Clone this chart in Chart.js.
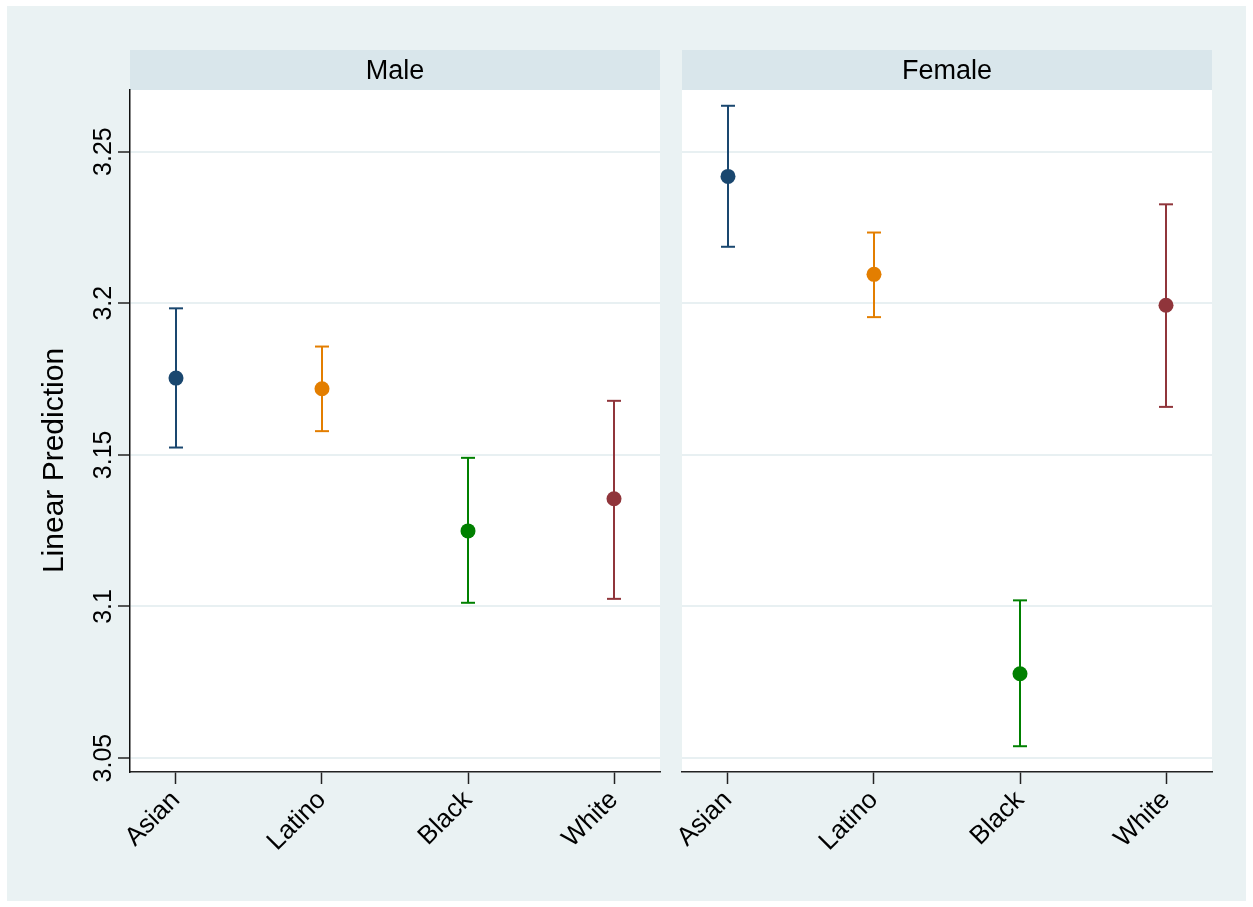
<!DOCTYPE html>
<html>
<head>
<meta charset="utf-8">
<script src="https://cdn.jsdelivr.net/npm/chart.js@4.4.0/dist/chart.umd.min.js"></script>
<style>
  html, body { margin: 0; padding: 0; background: #ffffff; }
  #wrap { position: relative; width: 1253px; height: 907px; overflow: hidden; }
  #bg { position: absolute; left: 7px; top: 6px; width: 1239px; height: 895px; background: #EAF2F3; }
  canvas { position: absolute; left: 0; top: 0; }
</style>
</head>
<body>
<div id="wrap">
  <div id="bg"></div>
  <canvas id="cMale" width="1253" height="907"></canvas>
  <canvas id="cFemale" width="1253" height="907"></canvas>
</div>
<script>
// ---------- data ----------
const categories = ['Asian', 'Latino', 'Black', 'White'];
const panelTitles = ['Male', 'Female'];
const yAxisTitle = 'Linear Prediction';

const maleEst   = [3.1753, 3.1718, 3.1249, 3.1355];
const maleLow   = [3.1524, 3.1578, 3.1012, 3.1025];
const maleHigh  = [3.1983, 3.1857, 3.1490, 3.1678];

const femaleEst  = [3.2418, 3.2095, 3.0778, 3.1993];
const femaleLow  = [3.2186, 3.1954, 3.0539, 3.1658];
const femaleHigh = [3.2651, 3.2233, 3.1020, 3.2326];

const yTickValues = [3.05, 3.1, 3.15, 3.2, 3.25];
const yTickLabels = ['3.05', '3.1', '3.15', '3.2', '3.25'];
const yMin = 3.0454, yMax = 3.2703;
const xMin = 0.685, xMax = 4.315;

// ---------- styles ----------
const seriesColors = ['#1A476F', '#E37E00', '#008000', '#90353B'];
const FONT = "'Liberation Sans', Arial, Helvetica, sans-serif";
const AXIS_DARK = '#222222';
const GRID = '#E8F0F2';
const STRIP = '#D9E6EB';

Chart.defaults.font.family = FONT;
Chart.defaults.color = '#000000';

const panelPlugin = {
  id: 'panelDecor',
  beforeDraw(chart, args, opts) {
    const { ctx, chartArea: a } = chart;
    ctx.save();
    ctx.fillStyle = '#ffffff';
    ctx.fillRect(a.left, a.top, a.right - a.left, a.bottom - a.top);
    ctx.fillStyle = STRIP;
    ctx.fillRect(a.left, a.top - 40, a.right - a.left, 40);
    ctx.fillStyle = '#000000';
    ctx.font = '27px ' + FONT;
    ctx.textAlign = 'center';
    ctx.textBaseline = 'alphabetic';
    ctx.fillText(opts.title, (a.left + a.right) / 2, a.top - 11);
    if (opts.yTitle) {
      ctx.translate(62.5, 460.5);
      ctx.rotate(-Math.PI / 2);
      ctx.font = '30px ' + FONT;
      ctx.textAlign = 'center';
      ctx.textBaseline = 'alphabetic';
      ctx.fillText(opts.yTitle, 0, 0);
    }
    ctx.restore();
  }
};

function buildDatasets(est, low, high) {
  const ds = [];
  categories.forEach((c, i) => {
    ds.push({
      type: 'line',
      data: [{ x: i + 1, y: low[i] }, { x: i + 1, y: high[i] }],
      borderColor: seriesColors[i],
      borderWidth: 2,
      showLine: true,
      pointStyle: 'line',
      pointRadius: 7,
      pointHoverRadius: 7,
      pointBorderWidth: 2,
      pointBorderColor: seriesColors[i],
      fill: false
    });
  });
  ds.push({
    type: 'scatter',
    data: categories.map((c, i) => ({ x: i + 1, y: est[i] })),
    pointRadius: 7.5,
    pointHoverRadius: 7.5,
    pointBorderWidth: 0,
    pointBackgroundColor: seriesColors.slice(),
    pointBorderColor: seriesColors.slice()
  });
  return ds;
}

function makeChart(canvasId, est, low, high, isLeft, title) {
  return new Chart(document.getElementById(canvasId), {
    type: 'scatter',
    data: { datasets: buildDatasets(est, low, high) },
    plugins: [panelPlugin],
    options: {
      responsive: false,
      animation: false,
      events: [],
      layout: {
        padding: isLeft
          ? { left: 0, top: 90, right: 1253 - 660, bottom: 0 }
          : { left: 682, top: 90, right: 1253 - 1212, bottom: 0 }
      },
      plugins: {
        legend: { display: false },
        tooltip: { enabled: false },
        title: { display: false },
        panelDecor: { title: title, yTitle: isLeft ? yAxisTitle : null }
      },
      scales: {
        x: {
          type: 'linear',
          min: xMin,
          max: xMax,
          afterBuildTicks(scale) { scale.ticks = categories.map((c, i) => ({ value: i + 1 })); },
          afterFit(scale) { scale.height = 907 - 772; },
          grid: {
            drawOnChartArea: false,
            drawTicks: true,
            tickLength: 12,
            tickColor: AXIS_DARK,
            tickWidth: 1.5
          },
          border: { display: true, color: AXIS_DARK, width: 1.5 },
          ticks: {
            minRotation: 45,
            maxRotation: 45,
            padding: 1,
            autoSkip: false,
            color: '#000000',
            font: { size: 26, family: FONT },
            callback(v) { return categories[Math.round(v) - 1]; }
          }
        },
        y: {
          type: 'linear',
          min: yMin,
          max: yMax,
          afterBuildTicks(scale) { scale.ticks = yTickValues.map(v => ({ value: v })); },
          afterFit(scale) { scale.width = isLeft ? 130 : 0; },
          grid: {
            color: GRID,
            lineWidth: 2,
            drawTicks: isLeft,
            tickLength: 12,
            tickColor: AXIS_DARK,
            tickWidth: 1.5
          },
          border: { display: isLeft, color: '#111111', width: 1.5 },
          ticks: {
            display: isLeft,
            minRotation: 90,
            maxRotation: 90,
            crossAlign: 'center',
            padding: -10,
            color: '#000000',
            font: { size: 25, family: FONT },
            callback(v) { const k = yTickValues.indexOf(v); return k >= 0 ? yTickLabels[k] : ''; }
          }
        }
      }
    }
  });
}

makeChart('cMale', maleEst, maleLow, maleHigh, true, panelTitles[0]);
makeChart('cFemale', femaleEst, femaleLow, femaleHigh, false, panelTitles[1]);
</script>
</body>
</html>
